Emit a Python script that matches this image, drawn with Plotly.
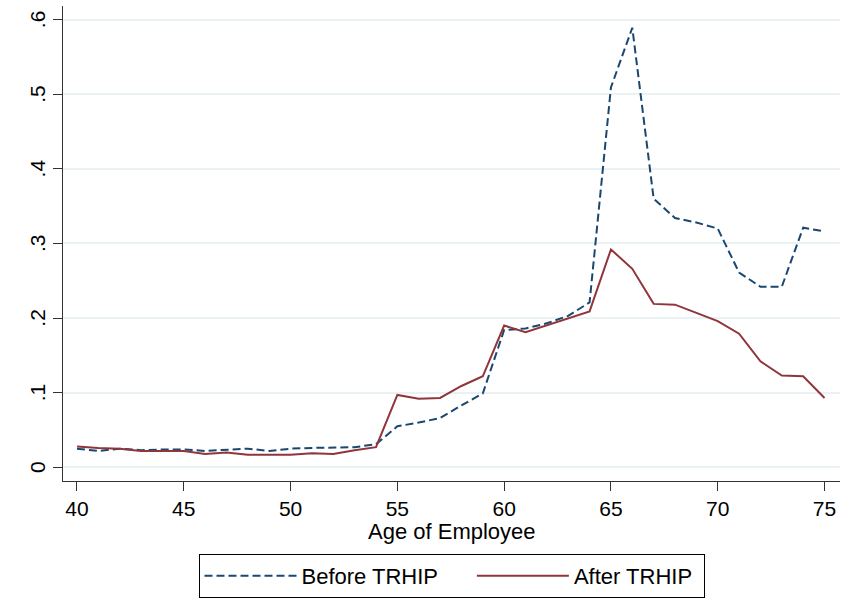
import plotly.graph_objects as go

ages = list(range(40, 76))
before_trhip = [0.025, 0.022, 0.025, 0.023, 0.024, 0.024, 0.022, 0.023, 0.025, 0.022,
                0.025, 0.026, 0.027, 0.027, 0.031, 0.055, 0.060, 0.066, 0.083, 0.099,
                0.184, 0.186, 0.193, 0.203, 0.221, 0.509, 0.589, 0.360, 0.334, 0.328,
                0.320, 0.261, 0.242, 0.242, 0.321, 0.316]
after_trhip = [0.028, 0.026, 0.025, 0.022, 0.022, 0.022, 0.018, 0.020, 0.017, 0.017,
               0.017, 0.019, 0.018, 0.023, 0.027, 0.097, 0.092, 0.093, 0.109, 0.122,
               0.190, 0.181, 0.190, 0.199, 0.209, 0.292, 0.266, 0.219, 0.218, 0.207,
               0.196, 0.179, 0.142, 0.123, 0.122, 0.093]

x_ticks = [40, 45, 50, 55, 60, 65, 70, 75]
y_ticks = [0, 0.1, 0.2, 0.3, 0.4, 0.5, 0.6]
y_tick_labels = ["0", ".1", ".2", ".3", ".4", ".5", ".6"]
series_names = ["Before TRHIP" + "\u00a0" * 4 + "\u2009", "After TRHIP" + "\u00a0"]
x_title = "Age of Employee"

FONT = "Liberation Sans, Arial, sans-serif"

fig = go.Figure()
fig.add_trace(go.Scatter(x=ages, y=before_trhip, mode="lines", name=series_names[0],
                         line=dict(color="#1a476f", width=2, dash="8px,4px")))
fig.add_trace(go.Scatter(x=ages, y=after_trhip, mode="lines", name=series_names[1],
                         line=dict(color="#90353b", width=2)))

fig.update_layout(
    width=841, height=599,
    margin=dict(l=63, r=1, t=6, b=116),
    paper_bgcolor="white", plot_bgcolor="white",
    font=dict(family=FONT, size=21, color="black"),
    showlegend=True,
    legend=dict(orientation="h", x=0.5, xanchor="center", y=-0.1537, yanchor="top",
                bordercolor="black", borderwidth=1, font=dict(size=22),
                itemwidth=92, tracegroupgap=0, bgcolor="white"),
    xaxis=dict(range=[39.345, 75.725], tickvals=x_ticks, showgrid=False, zeroline=False,
               showline=True, linecolor="#333", linewidth=1,
               ticks="outside", ticklen=9, tickcolor="#333", tickwidth=1,
               tickfont=dict(size=21)),
    yaxis=dict(range=[-0.0183, 0.6181], tickvals=y_ticks, ticktext=y_tick_labels,
               tickangle=-90, ticklabelshift=3, tickfont=dict(size=21),
               showgrid=True, gridcolor="#eaf2f3", gridwidth=2,
               zeroline=False, showline=True, linecolor="#333", linewidth=1,
               ticks="outside", ticklen=9, tickcolor="#333", tickwidth=1),
    annotations=[dict(text=x_title, xref="paper", yref="paper", x=0.5, y=-0.1065,
                      xanchor="center", yanchor="middle", showarrow=False,
                      font=dict(size=22, family=FONT, color="black"))],
)

fig.write_html("out.html")
